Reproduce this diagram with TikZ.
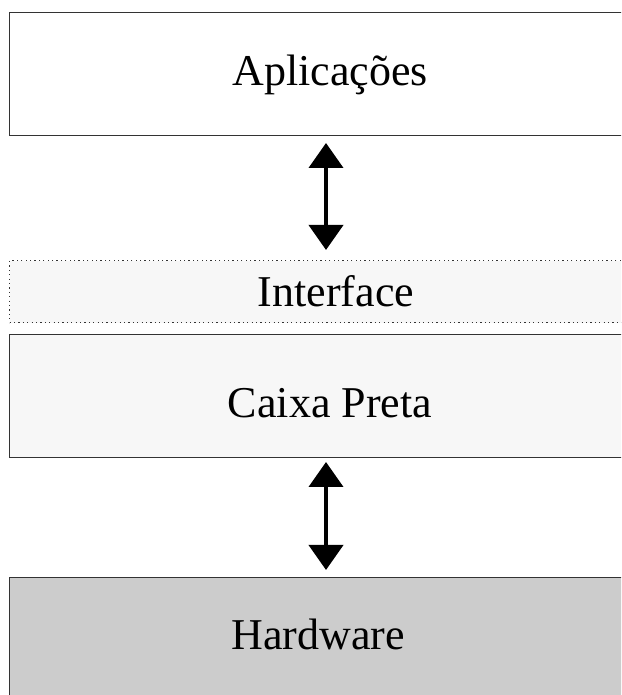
\documentclass[tikz,border=0pt]{standalone}
\usepackage{fontspec}
\setmainfont{Liberation Serif}
\usetikzlibrary{arrows.meta}
\definecolor{lightfill}{HTML}{F7F7F7}
\definecolor{hwfill}{HTML}{CCCCCC}
\definecolor{edge}{HTML}{333333}
\begin{document}
\begin{tikzpicture}[x=1pt,y=1pt,
  layerbox/.style={draw=edge,line width=1.3pt,rectangle,inner sep=0pt,anchor=north west},
  ifacebox/.style={draw=edge,line width=1.2pt,dash pattern=on 1.2pt off 3.2pt,rectangle,inner sep=0pt,anchor=north west,fill=lightfill},
  lbl/.style={font=\fontsize{44}{50}\selectfont,inner sep=0pt},
  bigarrow/.style={line width=4pt,{Triangle[width=34pt,length=25pt]}-{Triangle[width=34pt,length=25pt]}}]
\useasboundingbox (0,0) rectangle (621,695);
\clip (0,0) rectangle (621,695);
\fill[white] (0,0) rectangle (621,695);
% boxes (y = 695 - pixel row)
\node[layerbox,fill=white,minimum width=642pt,minimum height=123pt] (apl) at (9,683) {};
\node[ifacebox,minimum width=642pt,minimum height=62pt] (iface) at (9,435) {};
\node[layerbox,fill=lightfill,minimum width=642pt,minimum height=123pt] (caixa) at (9,361) {};
\node[layerbox,fill=hwfill,minimum width=642pt,minimum height=160pt] (hw) at (9,118) {};
% labels
\node[lbl] (tapl) at (330,620) {Aplicações};
\node[lbl] (tiface) at (336,404) {Interface};
\node[lbl] (tcaixa) at (330,292) {Caixa Preta};
\node[lbl] (thw) at (318,61) {Hardware};
% arrows
\coordinate (a1t) at (326,552);
\coordinate (a1b) at (326,445);
\coordinate (a2t) at (326,233);
\coordinate (a2b) at (326,125);
\draw[bigarrow] (a1t) -- (a1b);
\draw[bigarrow] (a2t) -- (a2b);
\end{tikzpicture}
\end{document}
